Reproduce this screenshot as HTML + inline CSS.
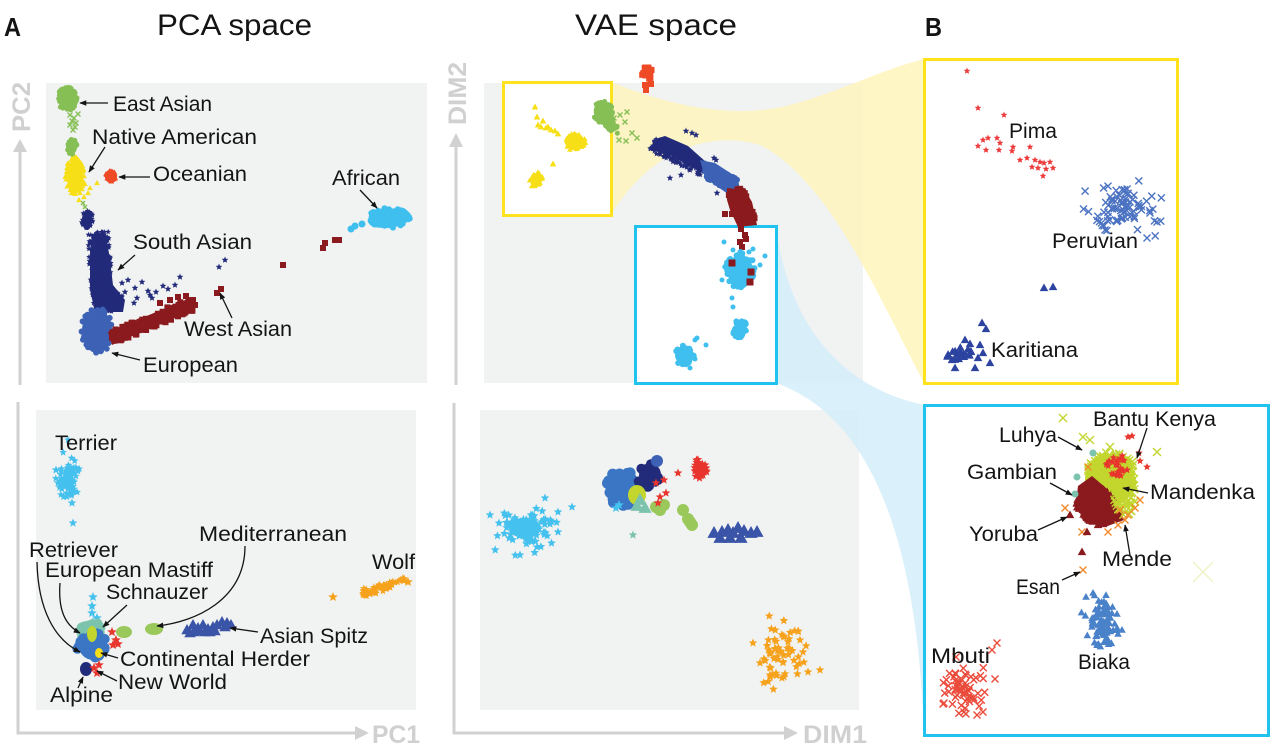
<!DOCTYPE html>
<html><head><meta charset="utf-8"><style>
html,body{margin:0;padding:0;background:#fff;}
svg{display:block;}
text{font-family:"Liberation Sans",Arial,sans-serif;fill:#141414;}
.ax{fill:#d0d0d0;font-weight:bold;font-size:25px;}
.lb{font-size:21.5px;}
</style></head><body>
<svg id="s" xmlns="http://www.w3.org/2000/svg" width="1280" height="756" viewBox="0 0 1280 756">
<defs>
<marker id="ah" viewBox="0 0 10 10" refX="9" refY="5" markerWidth="7" markerHeight="7" orient="auto" markerUnits="userSpaceOnUse"><path d="M0,1 L10,5 L0,9 z" fill="#141414"/></marker>
</defs>
<rect width="1280" height="756" fill="#fff"/>
<!-- gray panels -->
<rect x="46" y="83" width="381" height="300" fill="#f1f2f2"/>
<rect x="36" y="410" width="380" height="300" fill="#f1f2f2"/>
<rect x="484" y="83" width="379" height="300" fill="#f1f2f2"/>
<rect x="480" y="410" width="379" height="300" fill="#f1f2f2"/>
<!-- bands -->
<path d="M611,82 C680,110 740,118 790,105 C840,92 880,70 924,59 L924,383 C880,300 830,180 760,145 C710,130 650,150 611,215 Z" fill="#fff4b8" opacity="0.8"/>
<path d="M776,226 C786,310 830,385 924,405 L924,735 C918,560 880,420 776,383 Z" fill="#d4edfa" opacity="0.85"/>
<!-- boxes -->
<rect x="503.5" y="82.5" width="108" height="133" fill="#fff" stroke="#fde21c" stroke-width="3"/>
<rect x="635.5" y="226.5" width="141" height="157" fill="#fff" stroke="#20c3ee" stroke-width="3"/>
<rect x="924.5" y="59.5" width="253" height="324" fill="#fff" stroke="#fde21c" stroke-width="3"/>
<rect x="924.5" y="405.5" width="344" height="330" fill="#fff" stroke="#20c3ee" stroke-width="3"/>
<!-- axes -->
<g stroke="#d1d1d1" stroke-width="3" fill="none">
<line x1="20" y1="385" x2="20" y2="150"/>
<polyline points="18,402 18,733 358,733"/>
<line x1="456" y1="385" x2="456" y2="145"/>
<polyline points="454,403 454,733 785,733"/>
</g>
<g fill="#d1d1d1">
<polygon points="13,152 27,152 20,139"/>
<polygon points="355,726 355,740 369,733"/>
<polygon points="449,147 463,147 456,133"/>
<polygon points="784,726 784,740 798,733"/>
</g>
<text class="ax" transform="translate(30,132) rotate(-90)" textLength="50" lengthAdjust="spacingAndGlyphs">PC2</text>
<text class="ax" transform="translate(466,125) rotate(-90)" textLength="63" lengthAdjust="spacingAndGlyphs">DIM2</text>
<text class="ax" x="372" y="743" textLength="48" lengthAdjust="spacingAndGlyphs">PC1</text>
<text class="ax" x="803" y="743" textLength="64" lengthAdjust="spacingAndGlyphs">DIM1</text>
<!-- points -->
<g id="pts"></g>
<!-- headers -->
<text x="4" y="36" font-size="26" font-weight="bold" textLength="17" lengthAdjust="spacingAndGlyphs">A</text>
<text x="157" y="35" font-size="30" textLength="155" lengthAdjust="spacingAndGlyphs">PCA space</text>
<text x="575" y="35" font-size="30" textLength="162" lengthAdjust="spacingAndGlyphs">VAE space</text>
<text x="925" y="36" font-size="26" font-weight="bold" textLength="17" lengthAdjust="spacingAndGlyphs">B</text>
<!-- labels -->
<g class="lb">
<text class="lb" x="113" y="111" textLength="99" lengthAdjust="spacingAndGlyphs">East Asian</text>
<text class="lb" x="92" y="144" textLength="165" lengthAdjust="spacingAndGlyphs">Native American</text>
<text class="lb" x="153" y="181" textLength="94" lengthAdjust="spacingAndGlyphs">Oceanian</text>
<text class="lb" x="332" y="185" textLength="68" lengthAdjust="spacingAndGlyphs">African</text>
<text class="lb" x="133" y="249" textLength="119" lengthAdjust="spacingAndGlyphs">South Asian</text>
<text class="lb" x="184" y="336" textLength="108" lengthAdjust="spacingAndGlyphs">West Asian</text>
<text class="lb" x="143" y="372" textLength="95" lengthAdjust="spacingAndGlyphs">European</text>
<text class="lb" x="55" y="450" textLength="62" lengthAdjust="spacingAndGlyphs">Terrier</text>
<text class="lb" x="199" y="541" textLength="148" lengthAdjust="spacingAndGlyphs">Mediterranean</text>
<text class="lb" x="372" y="569" textLength="43" lengthAdjust="spacingAndGlyphs">Wolf</text>
<text class="lb" x="29" y="557" textLength="89" lengthAdjust="spacingAndGlyphs">Retriever</text>
<text class="lb" x="45" y="577" textLength="168" lengthAdjust="spacingAndGlyphs">European Mastiff</text>
<text class="lb" x="106" y="599" textLength="102" lengthAdjust="spacingAndGlyphs">Schnauzer</text>
<text class="lb" x="260" y="643" textLength="108" lengthAdjust="spacingAndGlyphs">Asian Spitz</text>
<text class="lb" x="120" y="666" textLength="190" lengthAdjust="spacingAndGlyphs">Continental Herder</text>
<text class="lb" x="118" y="689" textLength="109" lengthAdjust="spacingAndGlyphs">New World</text>
<text class="lb" x="50" y="702" textLength="63" lengthAdjust="spacingAndGlyphs">Alpine</text>
<text class="lb" x="1009" y="138" textLength="48" lengthAdjust="spacingAndGlyphs">Pima</text>
<text class="lb" x="1052" y="248" textLength="86" lengthAdjust="spacingAndGlyphs">Peruvian</text>
<text class="lb" x="991" y="357" textLength="87" lengthAdjust="spacingAndGlyphs">Karitiana</text>
<text class="lb" x="1093" y="426" textLength="123" lengthAdjust="spacingAndGlyphs">Bantu Kenya</text>
<text class="lb" x="999" y="442" textLength="58" lengthAdjust="spacingAndGlyphs">Luhya</text>
<text class="lb" x="967" y="479" textLength="90" lengthAdjust="spacingAndGlyphs">Gambian</text>
<text class="lb" x="1150" y="499" textLength="105" lengthAdjust="spacingAndGlyphs">Mandenka</text>
<text class="lb" x="969" y="541" textLength="69" lengthAdjust="spacingAndGlyphs">Yoruba</text>
<text class="lb" x="1102" y="566" textLength="70" lengthAdjust="spacingAndGlyphs">Mende</text>
<text class="lb" x="1016" y="594" textLength="44" lengthAdjust="spacingAndGlyphs">Esan</text>
<text class="lb" x="931" y="663" textLength="59" lengthAdjust="spacingAndGlyphs">Mbuti</text>
<text class="lb" x="1078" y="669" textLength="52" lengthAdjust="spacingAndGlyphs">Biaka</text>
</g>
<!-- arrows -->
<g stroke="#141414" stroke-width="1.3" fill="none" marker-end="url(#ah)">
<line x1="108" y1="103" x2="80" y2="103"/>
<line x1="105" y1="147" x2="89" y2="172"/>
<line x1="150" y1="177" x2="119" y2="177"/>
<line x1="360" y1="190" x2="377" y2="208"/>
<line x1="135" y1="255" x2="118" y2="270"/>
<line x1="232" y1="318" x2="220" y2="293"/>
<line x1="140" y1="360" x2="112" y2="353"/>
<path d="M245,546 C245,600 195,622 157,626"/>
<line x1="258" y1="632" x2="230" y2="628"/>
<path d="M37,562 C38,610 55,640 80,652"/>
<path d="M60,583 C58,610 65,625 80,633"/>
<line x1="127" y1="605" x2="103" y2="627"/>
<line x1="118" y1="658" x2="101" y2="653"/>
<line x1="117" y1="681" x2="97" y2="671"/>
<line x1="78" y1="688" x2="83" y2="677"/>
<line x1="1147" y1="428" x2="1137" y2="458"/>
<line x1="1058" y1="437" x2="1082" y2="450"/>
<line x1="1050" y1="483" x2="1072" y2="495"/>
<line x1="1148" y1="493" x2="1123" y2="488"/>
<line x1="1038" y1="530" x2="1067" y2="517"/>
<line x1="1130" y1="555" x2="1125" y2="525"/>
<line x1="1062" y1="580" x2="1080" y2="572"/>
</g>
</svg>
<script>
(function(){
var sd=7;function R(){sd=(sd*16807)%2147483647;return (sd-1)/2147483646;}
function G(){var u=R()||1e-6,v=R();return Math.sqrt(-2*Math.log(u))*Math.cos(6.2832*v);}
var out=[];
function f(n){return n.toFixed(1);}
function mk(t,x,y,r,c){
 if(t=='o')out.push('<circle cx="'+f(x)+'" cy="'+f(y)+'" r="'+r+'" fill="'+c+'"/>');
 else if(t=='s')out.push('<rect x="'+f(x-r)+'" y="'+f(y-r)+'" width="'+(2*r)+'" height="'+(2*r)+'" fill="'+c+'"/>');
 else if(t=='t')out.push('<polygon points="'+f(x)+','+f(y-r)+' '+f(x+r*0.95)+','+f(y+r*0.7)+' '+f(x-r*0.95)+','+f(y+r*0.7)+'" fill="'+c+'"/>');
 else if(t=='*'){var p=[];for(var i=0;i<10;i++){var a=-Math.PI/2+i*Math.PI/5,rr=i%2?r*0.45:r;p.push(f(x+rr*Math.cos(a))+','+f(y+rr*Math.sin(a)));}out.push('<polygon points="'+p.join(' ')+'" fill="'+c+'"/>');}
 else if(t=='x')out.push('<path d="M'+f(x-r)+','+f(y-r)+'L'+f(x+r)+','+f(y+r)+'M'+f(x-r)+','+f(y+r)+'L'+f(x+r)+','+f(y-r)+'" stroke="'+c+'" stroke-width="1.4" fill="none"/>');
}
function cl(t,c,cx,cy,sx,sy,n,r){for(var i=0;i<n;i++)mk(t,cx+G()*sx,cy+G()*sy,r,c);}
function el(t,c,cx,cy,rx,ry,n,r){for(var i=0;i<n;i++){var a=R()*6.2832,d=Math.sqrt(R());mk(t,cx+Math.cos(a)*d*rx,cy+Math.sin(a)*d*ry,r,c);}}
function bd(t,c,x0,y0,x1,y1,w,n,r){var dx=x1-x0,dy=y1-y0,L=Math.hypot(dx,dy);for(var i=0;i<n;i++){var q=R(),o=(R()-0.5)*w;mk(t,x0+dx*q-dy/L*o,y0+dy*q+dx/L*o,r,c);}}
function P(t,c,r,a){for(var i=0;i<a.length;i+=2)mk(t,a[i],a[i+1],r,c);}
function E(c,cx,cy,rx,ry,rot){out.push('<ellipse cx="'+cx+'" cy="'+cy+'" rx="'+rx+'" ry="'+ry+'" fill="'+c+'"'+(rot?' transform="rotate('+rot+' '+cx+' '+cy+')"':'')+'/>');}
function PG(c,pts){out.push('<polygon points="'+pts+'" fill="'+c+'"/>');}
var green="#86bf55",yellow="#f6df16",ored="#ef4a26",navy="#222a7a",blue="#3d62b5",maroon="#8a1a1d",cyan="#3fbfee",dcyan="#45c1ee",teal="#7cc3ae",dblue="#3b76c5",yg="#c2d62e",mg="#9ac85a",spitz="#3a54a8",orange="#f6a21c",red="#e8352d",pred="#ec3b3b",pblue="#4c73c2",kar="#2c43a0",biaka="#4a82ca",mbuti="#eb4b3b",bor="#f08a2a";
/* PCA top */
E(green,67,99,8,11);el('o',green,67,99,10,12,120,2.5);
P('x',green,2.5,[70,115,74,118,72,121,76,123,70,125,75,127,73,130,78,114]);
E(green,72,147,5,7);el('o',green,72,147,5,8,30,2.5);
E(yellow,75,177,8,17);el('t',yellow,75,176,10,19,120,3);
P('t',yellow,3,[85,184,90,188,97,183,80,193,84,197,88,193,79,200]);
E(ored,111,177,6,6);el('t',ored,111,177,6,6,30,3);
P('x',green,2,[83,203,85,207]);
E(navy,87,220,5,10);el('*',navy,87,220,6,11,30,3);
PG(navy,"92,234 106,234 110,260 113,285 125,300 123,312 95,312 90,290 90,250");
bd('*',navy,98,232,102,300,22,170,3);el('*',navy,108,300,15,12,80,3);
P('*',navy,3.5,[122,283,128,280,135,288,142,282,148,291,150,295,156,292,163,286,168,289,175,285,180,277,125,292,134,303,137,298,118,298,152,298,219,267,225,260]);
E(blue,97,331,15,22);el('o',blue,97,331,16,23,80,3);
bd('s',maroon,112,338,192,304,13,160,3);
PG(maroon,"108,332 190,298 195,308 112,345");
P('s',maroon,3,[160,303,170,300,178,297,186,296,193,300,195,305,217,293,221,289,283,265,323,248,325,243,335,240,339,240]);
E(cyan,389,218,21,9,-12);el('o',cyan,389,218,22,10,60,3);P('o',cyan,3.5,[355,226,351,229,362,224]);
/* PCA bottom */
E(dcyan,68,478,5,13);cl('*',dcyan,68,478,5,12,70,4);P('*',dcyan,4.5,[58,483,72,503,73,523,56,470]);
P('*',dcyan,5,[93,597,92,606,92,613,93,622,97,618]);
E(teal,92,632,12,10);el('o',teal,92,632,12,10,25,5);
E(dblue,93,646,14,14);el('o',dblue,92,646,15,14,40,5);
E(yg,92,634,5,8);
E(yellow,99,653,4,5);
E(navy,86,669,6,7);
P('*',red,5,[94,668,99,665,97,673,112,632,116,640,113,645,118,644]);
E(mg,154,629,9,6);E(mg,124,632,8,6);
P('t',spitz,6,[187,630,193,625,198,628,203,625,208,629,213,627,217,625,222,622,227,623,231,625,194,632,205,632,215,631,190,633,200,631,210,632,225,627]);
bd('*',orange,362,593,405,581,8,60,4);P('*',orange,5,[333,597,403,579,408,582]);
/* VAE top */
el('s',ored,647,73,5,7,20,3);P('s',ored,3,[645,85,651,84,646,90]);
E(green,603,112,9,10,-30);el('o',green,603,112,10,11,60,2.5);bd('o',green,603,115,618,133,10,40,2.5);
P('x',green,2.5,[614,118,620,115,627,112,625,122,632,133,637,138,619,140,626,141]);
P('t',yellow,3.5,[535,107,537,117,543,121,541,127,546,128,551,130,555,131,558,134,548,127,538,125,553,164]);
E(yellow,575,142,10,8);el('t',yellow,575,142,11,9,50,3);
E(yellow,536,180,6,7);el('t',yellow,536,180,7,8,25,3);
PG(navy,"652,140 665,136 688,146 706,162 704,174 688,165 668,154 654,150");
bd('*',navy,652,144,705,170,14,160,3);
P('*',navy,3.5,[686,131,692,133,696,135,672,152,673,158,670,178,681,175,685,165,714,158,716,160,717,193,690,170,660,148,665,154]);
PG(blue,"700,160 715,163 738,178 740,192 728,194 705,178");bd('o',blue,705,170,735,186,14,80,3);
PG(maroon,"727,188 745,190 752,202 755,215 757,225 738,227 730,210 727,200");bd('s',maroon,735,190,748,222,16,60,3);
P('s',maroon,3,[725,214,732,214,741,229,745,235,740,242,746,239,742,247]);
E(cyan,740,272,12,17);el('o',cyan,740,270,15,18,70,3);
P('o',cyan,2.5,[724,242,733,250,749,252,753,249,765,256,732,298,733,307,760,265,722,280]);
E(cyan,740,330,6,10);el('o',cyan,740,330,7,11,25,3);
E(cyan,684,355,9,9);el('o',cyan,684,355,10,10,25,3);P('o',cyan,2.5,[695,340,697,338,690,368,695,359,706,345]);
P('s',maroon,3.5,[732,263,751,272,750,282]);
/* VAE bottom */
E(dcyan,525,528,16,10);cl('*',dcyan,525,528,15,9,90,4.5);
P('*',dcyan,4.5,[490,515,545,498,572,507,558,512,558,532,520,555,537,547]);
E(dblue,625,488,15,18);el('o',dblue,622,488,15,18,45,5.5);
E(navy,650,475,11,12);el('o',navy,648,475,12,12,25,5);P('o',blue,6,[657,461]);
E(yg,637,495,9,10);P('t',teal,7,[637,506,645,508,640,500]);P('*',dcyan,5,[619,505,616,508]);
P('o',mg,6,[656,507,664,505,660,510]);
P('*',red,4.5,[656,483,664,480,666,493,660,497,658,503]);
E(red,700,470,5,9);el('*',red,700,468,7,11,25,4.5);P('*',red,4.5,[678,473]);
P('o',mg,6,[683,510,688,519,692,525,690,522]);P('*',teal,4.5,[633,535]);
P('t',spitz,7,[714,533,722,532,728,530,733,533,738,528,744,531,751,533,757,532,730,538,720,538,741,538]);
cl('*',orange,782,654,11,13,60,4.5);
P('*',orange,4.5,[753,643,800,640,803,652,820,670,808,672,782,678,760,663,770,675]);
/* B yellow */
P('*',pred,3.5,[967,71,978,108,1004,115,983,140,988,138,978,146,986,150,997,138,1000,143,999,150,1012,151,1013,147,1030,147,1027,158,1035,160,1040,162,1038,168,1046,169,1044,163,1050,162,1053,168,1043,176,1032,167,1020,160]);
cl('x',pblue,1122,208,17,11,80,3.5);P('x',pblue,3.5,[1150,213,1157,222,1147,238,1105,230]);
el('t',kar,960,355,13,9,20,4.5);
P('t',kar,4.5,[982,323,986,329,965,340,970,344,980,345,978,358,983,353,990,363,975,368,955,368,952,360,948,355,1044,288,1053,287]);
/* B cyan */
E(yg,1110,480,25,26);
el('x',yg,1112,472,24,20,180,4);
PG(maroon,"1078,486 1092,476 1106,488 1118,504 1124,520 1105,527 1083,521 1076,502");
el('t',maroon,1096,505,20,17,150,4.5);
el('x',yg,1124,494,12,22,60,4);
el('*',red,1118,466,12,12,25,4);
P('x',bor,3.5,[1065,508,1082,532,1108,532,1083,570,1118,525,1125,520,1140,500,1135,508,1088,467,1120,510,1128,515]);
P('x',yg,4,[1063,418,1083,437,1110,447,1157,452,1090,440]);
P('*',red,4,[1128,437,1132,436,1139,453,1140,461,1147,467]);
P('t',maroon,4.5,[1070,515,1087,532,1082,552,1098,525,1103,524]);
P('o',teal,3.5,[1075,494,1077,477,1093,453]);
out.push('<path d="M1193,562L1213,582M1193,582L1213,562" stroke="#eef3c8" stroke-width="1.5"/>');
cl('t',biaka,1102,620,8,12,80,4);P('t',biaka,4,[1086,597,1093,593,1117,614,1122,630,1118,634,1097,645]);
cl('x',mbuti,966,690,12,11,60,3.5);P('x',mbuti,3.5,[997,643,992,650,995,679,983,712,964,712,944,703,977,715]);
document.getElementById('pts').innerHTML=out.join('');
})();
</script>
</body></html>
